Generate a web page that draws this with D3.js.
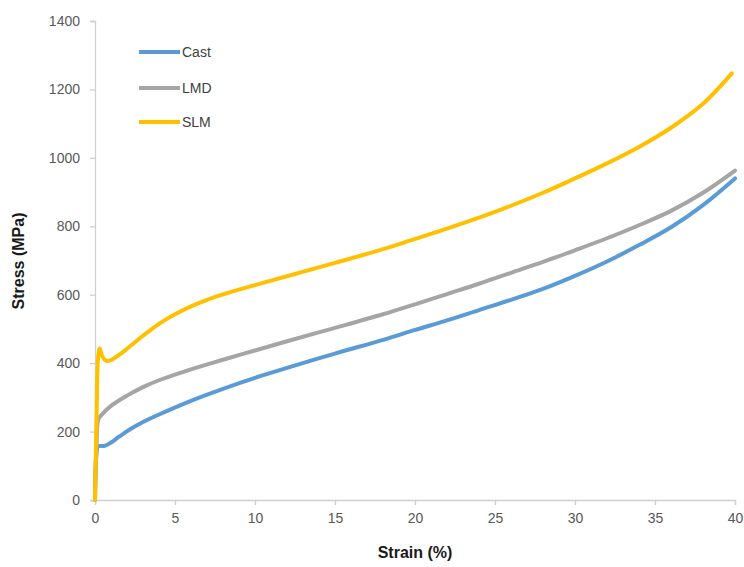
<!DOCTYPE html>
<html><head><meta charset="utf-8">
<script src="https://cdn.jsdelivr.net/npm/d3@7/dist/d3.min.js"></script>
<style>body{margin:0;background:#fff}svg{display:block}</style>
</head><body>
<svg id="c" width="744" height="567"></svg>
<script>
const seriesNames = ["Cast", "LMD", "SLM"];
const seriesColors = ["#5b9bd5", "#a5a5a5", "#ffc000"];
const castStrain = [0, 0.1, 0.2, 0.6, 1.0, 1.5, 2.2, 3, 4, 6, 8, 10, 12, 15, 18, 20, 22, 24, 26, 28, 30, 32, 34, 36, 38, 40];
const castStress = [0, 140, 157, 158, 168, 185, 207, 228, 250, 290, 325, 357, 386, 428, 468, 497, 525, 555, 585, 617, 655, 697, 745, 797, 862, 940];
const lmdStrain = [0, 0.1, 0.2, 0.4, 1, 2, 3, 4, 6, 8, 10, 12, 15, 18, 20, 22, 24, 26, 28, 30, 32, 34, 36, 38, 40];
const lmdStress = [0, 160, 235, 248, 275, 305, 330, 350, 382, 410, 437, 464, 503, 543, 572, 602, 632, 664, 696, 730, 765, 803, 845, 898, 963];
const slmStrain = [0, 0.1, 0.2, 0.3, 0.45, 0.7, 1.0, 1.5, 2, 3, 4, 5, 6, 7, 8, 10, 12, 15, 18, 20, 22, 24, 26, 28, 30, 32, 34, 36, 38, 39.8];
const slmStress = [0, 250, 420, 443, 420, 407, 409, 424, 442, 480, 515, 543, 566, 585, 601, 628, 654, 693, 733, 763, 793, 825, 860, 898, 940, 984, 1032, 1088, 1158, 1247];
const xTicks = [0, 5, 10, 15, 20, 25, 30, 35, 40];
const yTicks = [0, 200, 400, 600, 800, 1000, 1200, 1400];

const svg = d3.select("#c");
const x = d3.scaleLinear().domain([0, 40]).range([95, 735]);
const y = d3.scaleLinear().domain([0, 1400]).range([500, 21]);
const font = "'Liberation Sans', Arial, sans-serif";

const xAxis = svg.append("g").attr("transform", "translate(0,500)")
  .call(d3.axisBottom(x).tickValues(xTicks).tickSize(5).tickPadding(8).tickFormat(d3.format("d")));
const yAxis = svg.append("g").attr("transform", "translate(95,0)")
  .call(d3.axisLeft(y).tickValues(yTicks).tickSize(5).tickPadding(10).tickFormat(d3.format("d")));
[xAxis, yAxis].forEach(g => {
  g.select(".domain").attr("stroke", "#d0d0d0").attr("stroke-width", 1.3);
  g.selectAll(".tick line").attr("stroke", "#d0d0d0").attr("stroke-width", 1.3);
  g.selectAll(".tick text").attr("fill", "#595959").style("font-family", font).style("font-size", "14px");
});

const datasets = [
  castStrain.map((s, i) => [s, castStress[i]]),
  lmdStrain.map((s, i) => [s, lmdStress[i]]),
  slmStrain.map((s, i) => [s, slmStress[i]])
];
const line = d3.line().x(d => x(d[0])).y(d => y(d[1])).curve(d3.curveCatmullRom.alpha(0.5));
datasets.forEach((d, i) => {
  svg.append("path").datum(d).attr("d", line).attr("fill", "none")
    .attr("stroke", seriesColors[i]).attr("stroke-width", 4)
    .attr("stroke-linecap", "round").attr("stroke-linejoin", "round");
});

const legY = [52, 88, 122];
seriesNames.forEach((n, i) => {
  svg.append("line").attr("x1", 139).attr("x2", 180).attr("y1", legY[i]).attr("y2", legY[i])
    .attr("stroke", seriesColors[i]).attr("stroke-width", 4);
  svg.append("text").attr("x", 182).attr("y", legY[i]).attr("dy", "0.35em")
    .attr("fill", "#404040").style("font-family", font).style("font-size", "14px").text(n);
});

svg.append("text").attr("x", 415).attr("y", 558).attr("text-anchor", "middle")
  .style("font-family", font).style("font-size", "16px").style("font-weight", "bold")
  .attr("fill", "#1a1a1a").text("Strain (%)");
svg.append("text").attr("transform", "translate(24,261) rotate(-90)").attr("text-anchor", "middle")
  .style("font-family", font).style("font-size", "16px").style("font-weight", "bold")
  .attr("fill", "#1a1a1a").text("Stress (MPa)");
</script>
</body></html>
